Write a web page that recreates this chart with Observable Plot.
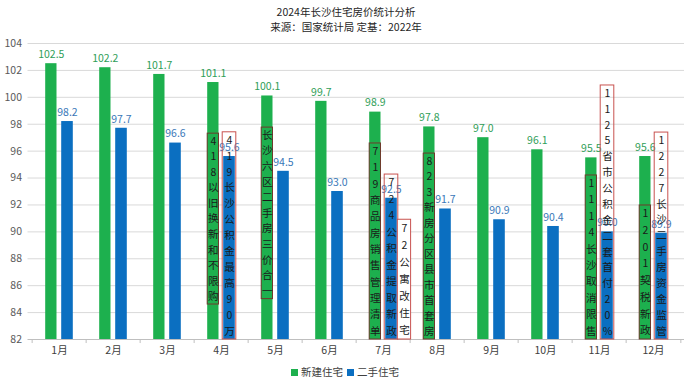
<!DOCTYPE html>
<html><head><meta charset="utf-8">
<script src="https://cdn.jsdelivr.net/npm/d3@7"></script>
<script src="https://cdn.jsdelivr.net/npm/@observablehq/plot@0.6"></script>
<style>
body{margin:0;background:#fff;font-family:"Noto Sans CJK SC","Noto Sans",sans-serif;}
#title{height:36px;padding-top:4px;box-sizing:border-box;text-align:center;font-size:10.5px;line-height:15px;color:#262626;}
#chart svg{display:block;}
#legend{height:16px;display:flex;justify-content:center;align-items:center;font-size:10.5px;color:#404040;gap:4px;padding-right:2px;}
#legend .sw{display:inline-block;width:7px;height:7px;margin-right:3px;vertical-align:middle;}
</style></head><body>
<div id="title"><div>2024年长沙住宅房价统计分析</div><div>来源：国家统计局 定基：2022年</div></div>
<div id="chart"></div>
<div id="legend"></div>
<script>
const months = ["1月","2月","3月","4月","5月","6月","7月","8月","9月","10月","11月","12月"];
const newHome = [102.5,102.2,101.7,101.1,100.1,99.7,98.9,97.8,97.0,96.1,95.5,95.6];
const usedHome = [98.2,97.7,96.6,95.6,94.5,93.0,92.5,91.7,90.9,90.4,90.0,89.9];
const seriesNames = ["新建住宅","二手住宅"];
const seriesColors = ["#1db04e","#0b6fc1"];
const labelColors = ["#2f9e58","#3a78b8"];
const yTicks = [82,84,86,88,90,92,94,96,98,100,102,104];
// policy notes: month, position (new / used / extra), top & bottom of box in y units
const notes = [
  {month:"4月", pos:"new", top:97.3, bottom:84.6, text:"418以旧换新和不限购"},
  {month:"4月", pos:"used", top:97.4, bottom:82, text:"419长沙公积金最高90万"},
  {month:"5月", pos:"new", top:97.75, bottom:85.0, text:"长沙六区二手房三价合一"},
  {month:"7月", pos:"new", top:96.57, bottom:82, text:"719商品房销售管理清单"},
  {month:"7月", pos:"used", top:94.26, bottom:82, text:"724公积金提取新政"},
  {month:"7月", pos:"extra", top:90.9, bottom:82, text:"72公寓改住宅"},
  {month:"8月", pos:"new", top:95.82, bottom:82, text:"823新房分区县市首套房"},
  {month:"11月", pos:"new", top:94.19, bottom:82, text:"1114长沙取消限售"},
  {month:"11月", pos:"used", top:100.88, bottom:82, text:"1125省市公积金二套首付20%"},
  {month:"12月", pos:"new", top:91.96, bottom:82, text:"1201契税新政"},
  {month:"12月", pos:"used", top:97.38, bottom:82, text:"1227长沙二手房资金监管"}
];

const rows = months.map((m,i)=>({month:m, newV:newHome[i], usedV:usedHome[i]}));
const chars = notes.flatMap(n=>{
  const arr = Array.from(n.text);
  const h = (n.top - n.bottom)/arr.length;
  return arr.map((c,i)=>({pos:n.pos, month:n.month, ch:c, y:n.top - h*(i+0.5)}));
});
const half = 27.35;
const insets = {
  new:{insetLeft:13.2, insetRight:29.5},
  used:{insetLeft:29.2, insetRight:13.2},
  usedBox:{insetLeft:28.2, insetRight:12.2},
  extra:{insetLeft:41.3, insetRight:-0.6}
};
const dxs = {new:-8.2, used:8, extra:21};

const chart = Plot.plot({
  width:692, height:327,
  marginTop:7, marginBottom:24, marginLeft:27.5, marginRight:8,
  style:{fontFamily:'"Noto Sans CJK SC","Noto Sans",sans-serif', fontSize:"10.5px", color:"#595959", background:"#fff"},
  x:{type:"band", domain:months, padding:0, label:null},
  y:{domain:[82,104], label:null},
  marks:[
    Plot.gridY(yTicks.filter(t=>t>82), {stroke:"#d9d9d9", strokeOpacity:1}),
    Plot.axisY({ticks:yTicks, tickSize:0, tickPadding:6, tickFormat:d=>d, fontSize:10.5, fill:"#595959", label:null}),
    Plot.axisX({tickSize:0, tickPadding:7, fontSize:10.5, fill:"#404040", label:null}),
    Plot.barY(rows, {x:"month", y1:82, y2:"newV", fill:seriesColors[0], ...insets.new}),
    Plot.barY(rows, {x:"month", y1:82, y2:"usedV", fill:seriesColors[1], ...insets.used}),
    Plot.ruleY([82], {stroke:"#bfbfbf"}),
    Plot.ruleX(months, {x:d=>d, dx:-half, y1:82, y2:81.7, stroke:"#bfbfbf", clip:false}),
    Plot.ruleX(months.slice(-1), {x:d=>d, dx:half, y1:82, y2:81.7, stroke:"#bfbfbf", clip:false}),
    Plot.text(rows, {x:"month", y:"newV", text:d=>d.newV.toFixed(1), dx:dxs.new, dy:-9, fill:labelColors[0], fontSize:10.5}),
    Plot.text(rows, {x:"month", y:"usedV", text:d=>d.usedV.toFixed(1), dx:dxs.used, dy:-9, fill:labelColors[1], fontSize:10.5}),
    Plot.barY(notes.filter(n=>n.pos==="new"), {x:"month", y1:"bottom", y2:"top", fill:seriesColors[0], stroke:"#6e3b2c", strokeWidth:1, ...insets.new}),
    Plot.barY(notes.filter(n=>n.pos==="used"), {x:"month", y1:"bottom", y2:"top", fill:"none", stroke:"#c8524f", strokeWidth:1, ...insets.usedBox}),
    Plot.barY(notes.filter(n=>n.pos==="extra"), {x:"month", y1:"bottom", y2:"top", fill:"#fff", stroke:"#c8524f", strokeWidth:1, ...insets.extra}),
    Plot.text(chars.filter(c=>c.pos==="new"), {x:"month", y:"y", text:"ch", dx:dxs.new, fill:"#1a1a1a", fontSize:10.5}),
    Plot.text(chars.filter(c=>c.pos==="used"), {x:"month", y:"y", text:"ch", dx:dxs.used, fill:"#1a1a1a", fontSize:10.5}),
    Plot.text(chars.filter(c=>c.pos==="extra"), {x:"month", y:"y", text:"ch", dx:dxs.extra, fill:"#1a1a1a", fontSize:10.5})
  ]
});
document.getElementById("chart").append(chart);
const lg = document.getElementById("legend");
seriesNames.forEach((s,i)=>{
  const span = document.createElement("span");
  span.innerHTML = `<span class="sw" style="background:${seriesColors[i]}"></span>${s}`;
  lg.append(span);
});
</script>
</body></html>
